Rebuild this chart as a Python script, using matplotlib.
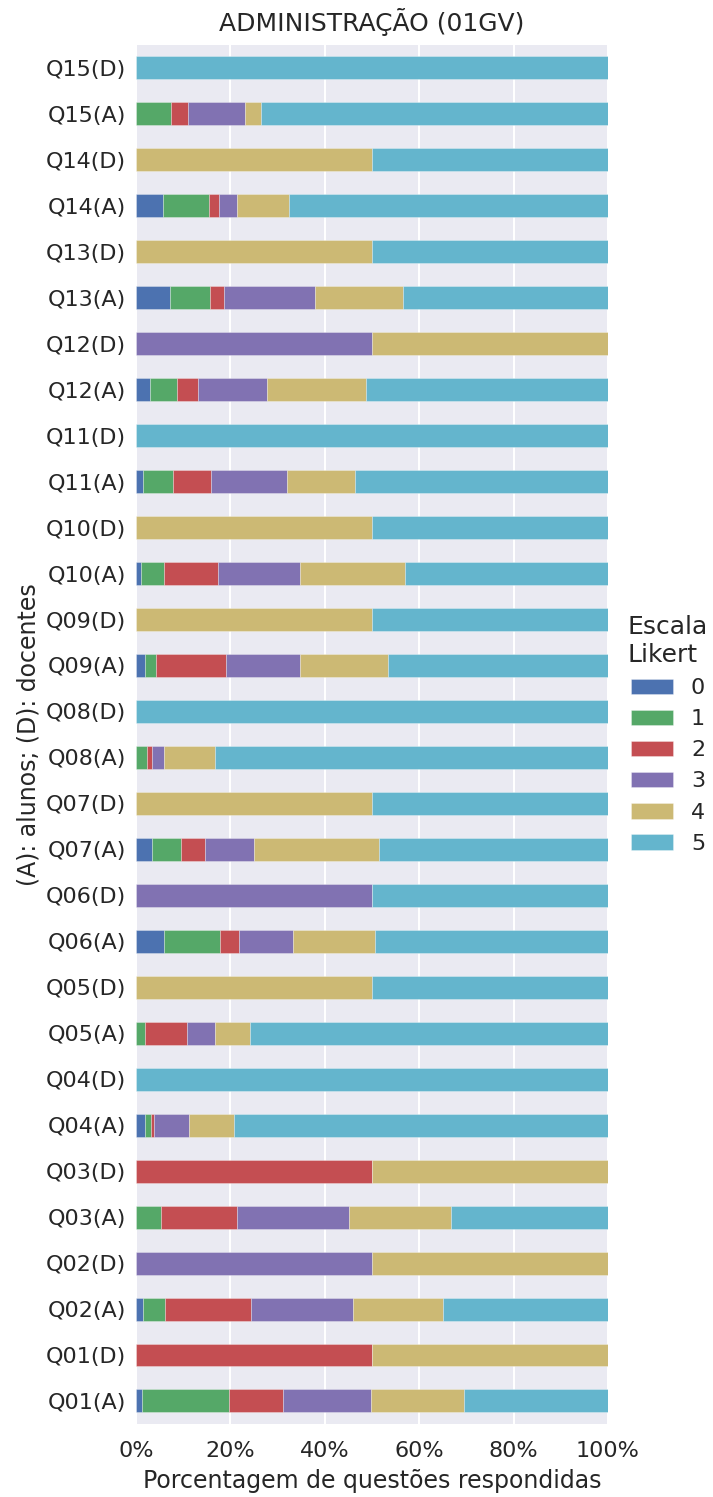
import matplotlib
matplotlib.use("Agg")
import matplotlib.pyplot as plt
import numpy as np

categories = ["Q01(A)", "Q01(D)", "Q02(A)", "Q02(D)", "Q03(A)", "Q03(D)",
              "Q04(A)", "Q04(D)", "Q05(A)", "Q05(D)", "Q06(A)", "Q06(D)",
              "Q07(A)", "Q07(D)", "Q08(A)", "Q08(D)", "Q09(A)", "Q09(D)",
              "Q10(A)", "Q10(D)", "Q11(A)", "Q11(D)", "Q12(A)", "Q12(D)",
              "Q13(A)", "Q13(D)", "Q14(A)", "Q14(D)", "Q15(A)", "Q15(D)"]

likert_0 = [1.3, 0, 1.4, 0, 0, 0, 1.9, 0, 0, 0, 5.9, 0, 3.3, 0, 0, 0, 1.9, 0,
            1.0, 0, 1.4, 0, 2.9, 0, 7.2, 0, 5.7, 0, 0, 0]
likert_1 = [18.5, 0, 4.8, 0, 5.2, 0, 1.3, 0, 1.9, 0, 11.8, 0, 6.3, 0, 2.3, 0, 2.4, 0,
            5.0, 0, 6.4, 0, 5.7, 0, 8.4, 0, 9.7, 0, 7.5, 0]
likert_2 = [11.3, 50, 18.2, 0, 16.1, 50, 0.6, 0, 8.9, 0, 4.2, 0, 5.1, 0, 1.1, 0, 14.8, 0,
            11.4, 0, 8.2, 0, 4.6, 0, 3.1, 0, 2.1, 0, 3.5, 0]
likert_3 = [18.7, 0, 21.6, 50, 23.9, 0, 7.5, 0, 6.0, 0, 11.4, 50, 10.4, 0, 2.6, 0, 15.7, 0,
            17.3, 0, 15.9, 0, 14.5, 50, 19.2, 0, 3.9, 0, 12.0, 0]
likert_4 = [19.7, 50, 19.1, 50, 21.6, 50, 9.4, 0, 7.4, 50, 17.3, 0, 26.3, 50, 10.8, 0, 18.6, 50,
            22.3, 50, 14.6, 0, 21.0, 50, 18.7, 50, 11.1, 50, 3.4, 0]
likert_5 = [30.5, 0, 34.9, 0, 33.2, 0, 79.3, 100, 75.8, 50, 49.4, 50, 48.6, 50, 83.2, 100, 46.6, 50,
            43.0, 50, 53.5, 100, 51.3, 0, 43.4, 50, 67.5, 50, 73.6, 100]

series_labels = ["0", "1", "2", "3", "4", "5"]
xtick_values = [0, 20, 40, 60, 80, 100]
xtick_labels = ["0%", "20%", "40%", "60%", "80%", "100%"]

colors = ["#4C72B0", "#55A868", "#C44E52", "#8172B2", "#CCB974", "#64B5CD"]

plt.rcParams['font.family'] = ['DejaVu Sans']

fig = plt.figure(figsize=(7.13, 14.97), dpi=100)
ax = fig.add_axes([0.1907, 0.0488, 0.8527 - 0.1907, 0.970 - 0.0488])
ax.set_facecolor("#EAEAF2")
for s in ax.spines.values():
    s.set_visible(False)
ax.set_axisbelow(True)
ax.grid(axis="x", color="white", linewidth=1.5)

all_series = [likert_0, likert_1, likert_2, likert_3, likert_4, likert_5]
y = np.arange(len(categories))
left = np.zeros(len(categories))
for vals, lab, col in zip(all_series, series_labels, colors):
    v = np.array(vals, dtype=float)
    ax.barh(y, v, left=left, height=0.5, color=col, label=lab,
            edgecolor=(1, 1, 1, 0.35), linewidth=0.6)
    left += v

ax.set_ylim(-0.5, len(categories) - 0.5)
ax.set_xlim(0, 100)
ax.set_yticks(y)
ax.set_yticklabels(categories, fontsize=16, color="#262626")
ax.set_xticks(xtick_values)
ax.set_xticklabels(xtick_labels, fontsize=16, color="#262626")
ax.tick_params(axis="y", length=0, pad=7)
ax.tick_params(axis="x", length=0, pad=12)
ax.set_xlabel("Porcentagem de questões respondidas", fontsize=17, color="#262626", labelpad=6)
ax.set_ylabel("(A): alunos; (D): docentes", fontsize=17, color="#262626", labelpad=4)
ax.set_title("ADMINISTRAÇÃO (01GV)", fontsize=18, color="#262626", pad=10)

leg = ax.legend(title="Escala\nLikert", loc="center left", bbox_to_anchor=(1.0, 0.5),
                frameon=False, fontsize=16, title_fontsize=18, handlelength=1.9,
                borderaxespad=0.5)
for t in leg.get_texts():
    t.set_color("#262626")
leg.get_title().set_color("#262626")

fig.savefig("out.png", dpi=100)
